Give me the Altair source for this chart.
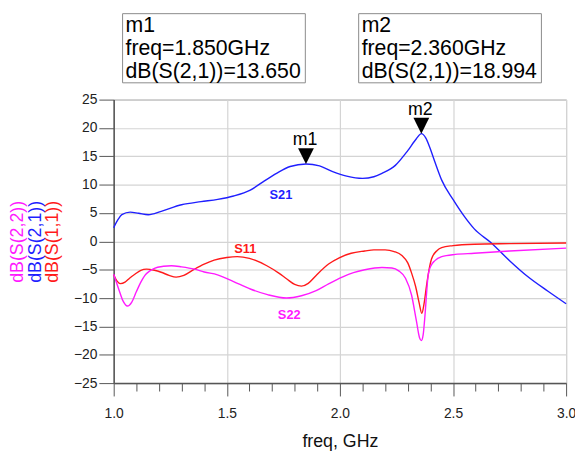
import altair as alt
import pandas as pd

# ---------------- data ----------------
freq_s21 = [1.00, 1.02, 1.036, 1.073, 1.11, 1.153, 1.21, 1.30, 1.386, 1.46, 1.53, 1.604, 1.66, 1.72,
            1.78, 1.85, 1.91, 1.968, 2.03, 2.10, 2.15, 2.186, 2.245, 2.30, 2.338, 2.36, 2.38, 2.397,
            2.42, 2.45, 2.50, 2.55, 2.594, 2.667, 2.75, 2.83, 2.92, 3.00]
s21 = [2.4, 3.9, 4.7, 5.15, 4.95, 4.7, 5.3, 6.45, 7.0, 7.4, 8.0, 9.05, 10.5, 12.0,
       13.2, 13.65, 13.3, 12.3, 11.5, 11.1, 11.4, 12.0, 13.4, 16.0, 18.1, 18.994, 18.2, 16.6,
       14.0, 10.8, 7.4, 4.4, 2.2, -0.2, -3.4, -6.2, -8.8, -11.0]

freq_s11 = [1.00, 1.015, 1.03, 1.05, 1.07, 1.095, 1.12, 1.145, 1.18, 1.21, 1.245, 1.276, 1.31, 1.357,
            1.40, 1.444, 1.50, 1.546, 1.60, 1.677, 1.73, 1.764, 1.80, 1.83, 1.86, 1.895, 1.95, 1.997,
            2.05, 2.11, 2.15, 2.20, 2.24, 2.274, 2.30, 2.317, 2.335, 2.350, 2.362, 2.372, 2.383,
            2.395, 2.405, 2.43, 2.45, 2.50, 2.594, 2.75, 3.00]
s11 = [-5.9, -7.0, -7.45, -7.2, -6.5, -5.75, -5.1, -4.9, -5.1, -5.45, -6.0, -6.3, -6.0, -4.9,
       -4.0, -3.3, -2.85, -2.7, -3.0, -4.3, -5.6, -6.6, -7.6, -7.9, -7.4, -6.0, -4.0, -2.9,
       -2.1, -1.7, -1.5, -1.5, -1.8, -2.5, -3.8, -5.6, -8.0, -10.8, -12.7, -11.0, -7.8,
       -4.8, -3.1, -1.6, -1.1, -0.75, -0.5, -0.4, -0.3]

freq_s22 = [1.00, 1.022, 1.04, 1.061, 1.08, 1.10, 1.12, 1.138, 1.16, 1.18, 1.22, 1.255, 1.30, 1.357,
            1.40, 1.459, 1.53, 1.604, 1.68, 1.764, 1.83, 1.895, 1.95, 2.01, 2.06, 2.11, 2.186, 2.23,
            2.26, 2.29, 2.317, 2.338, 2.352, 2.36, 2.368, 2.375, 2.39, 2.40, 2.42, 2.45, 2.51,
            2.594, 2.75, 3.00]
s22 = [-5.8, -8.4, -10.4, -11.4, -10.7, -8.9, -7.2, -6.0, -5.2, -4.75, -4.4, -4.3, -4.5, -4.9,
       -5.4, -5.9, -7.1, -8.4, -9.4, -10.0, -9.6, -8.7, -7.5, -6.3, -5.5, -5.0, -4.6, -4.7,
       -5.2, -6.5, -9.5, -14.0, -17.0, -17.5, -16.5, -13.6, -6.0, -4.5, -3.4, -2.7, -2.3,
       -2.1, -1.7, -1.2]

series_names = ["S21", "S11", "S22"]
series_colors = ["#1f1fff", "#ff1a1a", "#ff1aff"]
y_titles = ["dB(S(2,2))", "dB(S(2,1))", "dB(S(1,1))"]
y_title_colors = ["#ff1aff", "#1f1fff", "#ff1a1a"]

label_names = ["S21", "S11", "S22"]
label_freq = [1.739, 1.582, 1.776]
label_db = [8.2, -1.35, -13.0]

marker_names = ["m1", "m2"]
marker_freq = [1.850, 2.360]
marker_db = [13.650, 18.994]

x_ticks = [round(1.0 + 0.1 * i, 1) for i in range(21)]
y_ticks = [-25, -20, -15, -10, -5, 0, 5, 10, 15, 20, 25]

# ---------------- tables ----------------
rows = []
for name, fs, vs in zip(series_names, [freq_s21, freq_s11, freq_s22], [s21, s11, s22]):
    for f, v in zip(fs, vs):
        rows.append({"series": name, "freq": f, "db": v})
df = pd.DataFrame(rows)
df_lab = pd.DataFrame({"series": label_names, "freq": label_freq, "db": label_db})
df_m = pd.DataFrame({"name": marker_names, "freq": marker_freq, "db": marker_db})

FONT = "Liberation Sans"
major_test = "abs(datum.value*2 - round(datum.value*2)) < 0.001"

xscale = alt.Scale(domain=[1.0, 3.0], nice=False, zero=False)
yscale = alt.Scale(domain=[-25, 25], nice=False, zero=False)
cscale = alt.Scale(domain=series_names, range=series_colors)

xaxis = alt.Axis(
    values=x_ticks,
    tickCount=100,
    labelExpr=f"{major_test} ? format(datum.value, '.1f') : ''",
    gridOpacity={"condition": {"test": major_test, "value": 1}, "value": 0},
    tickSize={"condition": {"test": major_test, "value": 13}, "value": 8},
    labelFlush=False,
    labelOverlap=False,
    labelPadding=11,
    labelFontSize=14,
    labelColor="#222222",
    labelFont=FONT,
    title="freq, GHz",
    titleFont=FONT,
    titleFontSize=18,
    titleFontWeight="normal",
    titleColor="#111111",
    titleBaseline="alphabetic",
    titleY=64,
)
yaxis = alt.Axis(
    values=y_ticks,
    tickCount=100,
    format="d",
    tickSize=15,
    labelPadding=2,
    labelFontSize=14,
    labelColor="#222222",
    labelFont=FONT,
    labelOverlap=False,
    labelFlush=False,
    title=None,
)

lines = alt.Chart(df).mark_line(strokeWidth=1.4, interpolate="monotone").encode(
    x=alt.X("freq:Q", scale=xscale, axis=xaxis),
    y=alt.Y("db:Q", scale=yscale, axis=yaxis),
    color=alt.Color("series:N", scale=cscale, legend=None),
)

labels = alt.Chart(df_lab).mark_text(fontSize=13, fontWeight="bold", font=FONT).encode(
    x=alt.X("freq:Q", scale=xscale, axis=None),
    y=alt.Y("db:Q", scale=yscale, axis=None),
    text="series:N",
    color=alt.Color("series:N", scale=cscale, legend=None),
)

tri = alt.Chart(df_m).mark_point(
    shape="M-1,-2L1,-2L0,0Z", size=256, filled=True, color="black", opacity=1, strokeWidth=0
).encode(x=alt.X("freq:Q", scale=xscale, axis=None), y=alt.Y("db:Q", scale=yscale, axis=None))

mtext = alt.Chart(df_m).mark_text(
    dy=-19, dx=-1, fontSize=18, baseline="alphabetic", font=FONT, color="black"
).encode(
    x=alt.X("freq:Q", scale=xscale, axis=None),
    y=alt.Y("db:Q", scale=yscale, axis=None),
    text="name:N",
)

one = alt.Data(values=[{}])
layers = [lines, labels, tri, mtext]

box_lefts = [9, 248]
box_w = 185
for i, (n, f, v) in enumerate(zip(marker_names, marker_freq, marker_db)):
    bx = box_lefts[i]
    layers.append(
        alt.Chart(one).mark_rect(fill="white", stroke="#8a8a8a", strokeWidth=1).encode(
            x=alt.value(bx), x2=alt.value(bx + box_w), y=alt.value(-87), y2=alt.value(-17)
        )
    )
    txt = f"{n}\nfreq={f:.3f}GHz\ndB(S(2,1))={v:.3f}"
    layers.append(
        alt.Chart(one).mark_text(
            align="left", baseline="alphabetic", fontSize=21.5, font=FONT, color="black",
            lineBreak="\n", lineHeight=23, text=txt
        ).encode(x=alt.value(bx + 3), y=alt.value(-68))
    )

for i, (t, c) in enumerate(zip(y_titles, y_title_colors)):
    layers.append(
        alt.Chart(one).mark_text(
            angle=270, align="center", baseline="middle", fontSize=18, font=FONT, color=c, text=t
        ).encode(x=alt.value(-97 + 18 * i), y=alt.value(144))
    )

chart = alt.layer(*layers).resolve_axis(
    x="independent", y="independent"
).properties(
    width=458,
    height=287,
    padding={"left": 107, "top": 90, "right": 9, "bottom": 67},
    autosize=alt.AutoSizeParams(type="none"),
    background="white",
).configure_view(
    stroke="#8a8a8a", strokeWidth=1
).configure_axis(
    domainColor="#555555",
    domainWidth=1.5,
    tickColor="#555555",
    tickWidth=1,
    gridColor="#d4d4d4",
    gridWidth=1.2,
)

chart.save("out.html", embed_options={"renderer": "svg", "actions": False})
